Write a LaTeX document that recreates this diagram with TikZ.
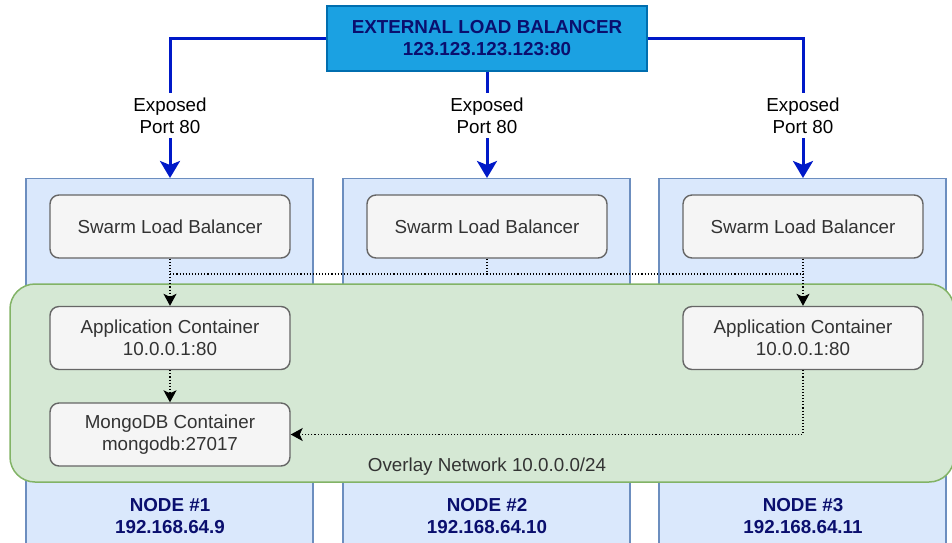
\documentclass[tikz,border=0pt]{standalone}
\usepackage{fontspec}
\setmainfont{Liberation Sans}
\usetikzlibrary{arrows.meta}
\definecolor{extfill}{HTML}{1BA1E2}
\definecolor{extdraw}{HTML}{006EAF}
\definecolor{navy}{HTML}{0A0F6E}
\definecolor{blueline}{HTML}{0019C8}
\definecolor{nodefill}{HTML}{DAE8FC}
\definecolor{nodedraw}{HTML}{6C8EBF}
\definecolor{grayfill}{HTML}{F5F5F5}
\definecolor{graydraw}{HTML}{666666}
\definecolor{greenfill}{HTML}{D5E8D4}
\definecolor{greendraw}{HTML}{82B366}
\definecolor{textgray}{HTML}{333333}
\tikzset{
  txt/.style={font=\fontsize{18.8}{22}\selectfont, align=center},
  extbox/.style={txt, draw=extdraw, fill=extfill, line width=1.3pt, text=navy, font=\fontsize{18.8}{22}\selectfont\bfseries, minimum width=320pt, minimum height=65pt, inner sep=0pt},
  hostbox/.style={draw=nodedraw, fill=nodefill, line width=1.3pt, minimum width=287pt, minimum height=380pt, inner sep=0pt, anchor=north},
  netbox/.style={draw=greendraw, fill=greenfill, line width=1.5pt, rounded corners=25pt, minimum width=944pt, minimum height=198pt, inner sep=0pt},
  contbox/.style={txt, draw=graydraw, fill=grayfill, text=textgray, line width=1.4pt, rounded corners=9pt, minimum width=240pt, minimum height=63pt, inner sep=0pt},
  portlab/.style={txt, text=black, minimum height=45pt, inner sep=0pt},
  hostlab/.style={txt, text=navy, font=\fontsize{18.8}{22}\selectfont\bfseries},
  netlab/.style={txt, text=textgray},
  bluelink/.style={draw=blueline, line width=3pt},
  bluearrow/.style={bluelink, -{Stealth[length=17pt,width=20pt,inset=4pt]}},
  dotlink/.style={draw=black, line width=1.1pt, dotted},
  dotarrow/.style={dotlink, -{Stealth[length=12pt,width=13pt,inset=3pt]}},
}
\begin{document}
\begin{tikzpicture}[x=1pt,y=-1pt]
\useasboundingbox (0,0) rectangle (952,542);
\clip (0,0) rectangle (952,542);
% hosts
\node[hostbox] (node1) at (169.5,178) {};
\node[hostbox] (node2) at (486.5,178) {};
\node[hostbox] (node3) at (802.5,178) {};
% overlay network
\node[netbox] (overlay) at (482,383) {};
\node[netlab] (netlabel) at (487,467) {Overlay Network 10.0.0.0/24};
% external LB
\node[extbox] (ext) at (487,38.5) {EXTERNAL LOAD BALANCER\\123.123.123.123:80};
% port labels
\node[portlab] (lab1) at (170,115.5) {Exposed\\Port 80};
\node[portlab] (lab2) at (487,115.5) {Exposed\\Port 80};
\node[portlab] (lab3) at (803,115.5) {Exposed\\Port 80};
% containers
\node[contbox] (slb1) at (170,226.5) {Swarm Load Balancer};
\node[contbox] (slb2) at (487,226.5) {Swarm Load Balancer};
\node[contbox] (slb3) at (803,226.5) {Swarm Load Balancer};
\node[contbox] (app1) at (170,338) {Application Container\\10.0.0.1:80};
\node[contbox] (app3) at (803,338) {Application Container\\10.0.0.1:80};
\node[contbox] (mongo) at (170,434.5) {MongoDB Container\\mongodb:27017};
% host labels
\node[hostlab] (h1) at (170,516) {NODE \#1\\192.168.64.9};
\node[hostlab] (h2) at (487,516) {NODE \#2\\192.168.64.10};
\node[hostlab] (h3) at (803,516) {NODE \#3\\192.168.64.11};
% blue connectors
\draw[bluelink] (ext.west) -| (lab1.north);
\draw[bluelink] (ext.south) -- (lab2.north);
\draw[bluelink] (ext.east) -| (lab3.north);
\draw[bluearrow] (lab1.south) -- (lab1.south |- node1.north);
\draw[bluearrow] (lab2.south) -- (lab2.south |- node2.north);
\draw[bluearrow] (lab3.south) -- (lab3.south |- node3.north);
% dotted connectors
\coordinate (j1) at (170,274);
\coordinate (j2) at (487,274);
\coordinate (j3) at (803,274);
\draw[dotlink] (slb1.south) -- (j1) -- (j3);
\draw[dotlink] (slb2.south) -- (j2);
\draw[dotlink] (slb3.south) -- (j3);
\draw[dotarrow] (j1) -- (app1.north);
\draw[dotarrow] (j3) -- (app3.north);
\draw[dotarrow] (app1.south) -- (mongo.north);
\draw[dotarrow] (app3.south) |- (mongo.east);
\end{tikzpicture}
\end{document}
